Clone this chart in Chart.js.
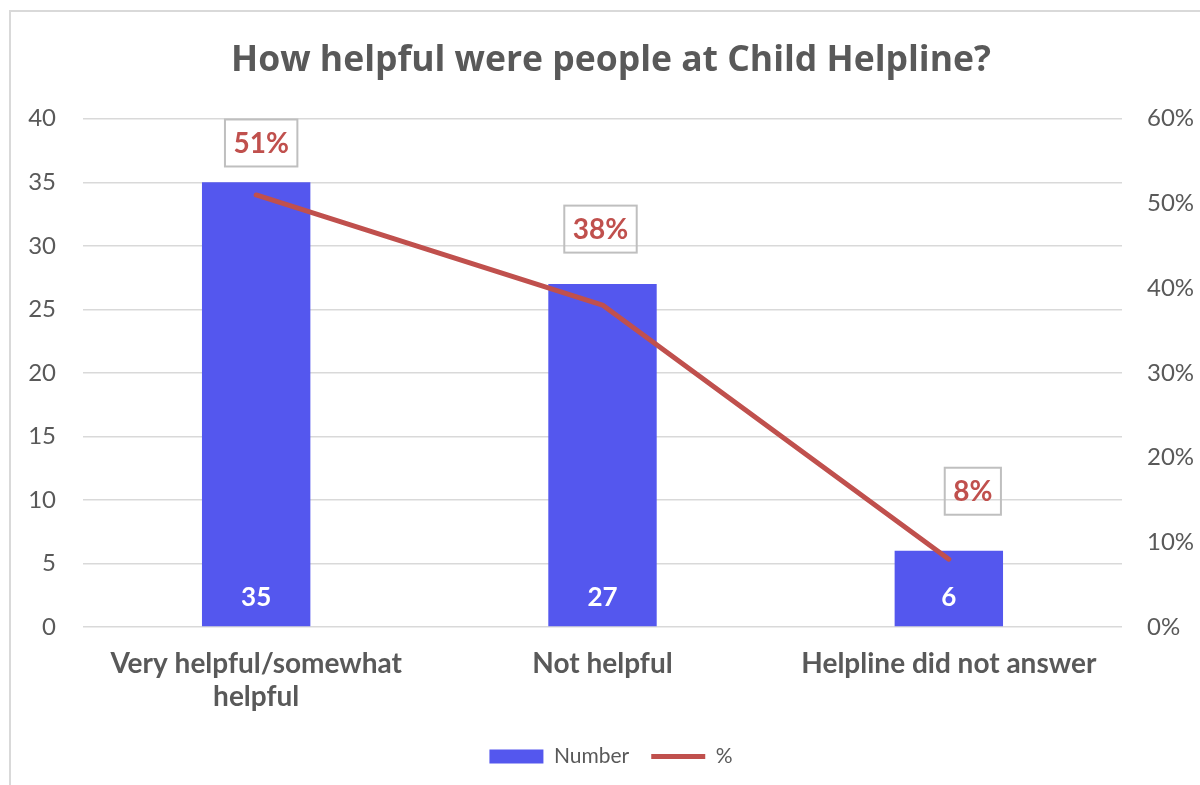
<!DOCTYPE html>
<html>
<head>
<meta charset="utf-8">
<script src="https://cdn.jsdelivr.net/npm/chart.js@4.4.1/dist/chart.umd.min.js"></script>
<style>
  html, body { margin: 0; padding: 0; width: 1200px; height: 785px; overflow: hidden; background: #fff; }
  #frame { position: absolute; left: 9px; top: 10px; border-left: 2px solid #d9d9d9; border-top: 2px solid #d9d9d9; }
  canvas { display: block; }
</style>
</head>
<body>
<div id="frame"><canvas id="helpChart" width="1200" height="780"></canvas></div>
<script>
// answers and how many gave each one
const categories = [['Very helpful/somewhat', 'helpful'], 'Not helpful', 'Helpline did not answer'];
const counts = [35, 27, 6];
const percents = [51, 38, 8];
const countTicks = [0, 5, 10, 15, 20, 25, 30, 35, 40];
const percentTicks = [0, 10, 20, 30, 40, 50, 60];

const GREY = '#595959';
const BLUE = '#5457ee';
const RED = '#c0504d';

// white counts at the foot of each bar, boxed percentages above the line
const valueLabels = {
  id: 'valueLabels',
  afterDatasetsDraw(chart, args, opts) {
    const ctx = chart.ctx;
    ctx.save();
    ctx.textAlign = 'center';
    ctx.textBaseline = 'middle';

    ctx.font = 'bold 26px Lato';
    ctx.fillStyle = '#fff';
    chart.getDatasetMeta(0).data.forEach((bar, i) => {
      ctx.fillText(String(counts[i]), bar.x, bar.base - 29);
    });

    ctx.font = 'bold 28px Lato';
    chart.getDatasetMeta(1).data.forEach((pt, i) => {
      const text = percents[i] + '%';
      const [dx, dy] = opts.nudges[i];
      const cx = pt.x + dx, cy = pt.y + dy;
      const w = ctx.measureText(text).width + 17;
      const h = 47;
      ctx.strokeStyle = '#bfbfbf';
      ctx.lineWidth = 2;
      ctx.strokeRect(cx - w / 2, cy - h / 2, w, h);
      ctx.fillStyle = RED;
      ctx.fillText(text, cx, cy + 1);
    });
    ctx.restore();
  }
};

const ctx = document.getElementById('helpChart').getContext('2d');
new Chart(ctx, {
  type: 'bar',
  data: {
    labels: categories,
    datasets: [
      {
        type: 'bar',
        label: 'Number',
        data: counts,
        backgroundColor: BLUE,
        pointStyle: 'rect',
        yAxisID: 'y',
        order: 2,
        categoryPercentage: 1,
        barPercentage: 0.313
      },
      {
        type: 'line',
        label: '%',
        data: percents,
        borderColor: RED,
        backgroundColor: RED,
        borderWidth: 5,
        borderCapStyle: 'round',
        borderJoinStyle: 'round',
        pointRadius: 0,
        pointStyle: 'line',
        tension: 0,
        yAxisID: 'y1',
        order: 1
      }
    ]
  },
  options: {
    responsive: false,
    animation: false,
    layout: { padding: { top: 0, bottom: 15, left: 0, right: 0 } },
    plugins: {
      title: {
        display: true,
        text: 'How helpful were people at Child Helpline?',
        color: GREY,
        font: { family: 'Open Sans', size: 35.5, weight: 'bold', lineHeight: 1.1 },
        padding: { top: 29, bottom: 38.7 }
      },
      legend: {
        position: 'bottom',
        labels: {
          usePointStyle: true,
          pointStyleWidth: 54,
          boxHeight: 14,
          padding: 22,
          color: GREY,
          font: { family: 'Lato', size: 21 },
          sort: (a, b) => a.datasetIndex - b.datasetIndex
        }
      },
      tooltip: { enabled: false },
      valueLabels: { nudges: [[5, -52], [-2, -76], [24, -68]] }
    },
    scales: {
      x: {
        grid: { display: false, drawTicks: false },
        border: { display: false },
        ticks: {
          color: GREY,
          font: { family: 'Lato', size: 28, weight: 'bold', lineHeight: 1.2 },
          padding: 20,
          maxRotation: 0,
          autoSkip: false
        },
        afterFit(s) { s.height = 97; }
      },
      y: {
        position: 'left',
        min: 0,
        max: 40,
        afterBuildTicks(s) { s.ticks = countTicks.map(v => ({ value: v })); },
        grid: { color: '#d9d9d9', lineWidth: 1.5, drawTicks: false },
        border: { display: false },
        ticks: { color: GREY, font: { family: 'Lato', size: 24 }, padding: 27 },
        afterFit(s) { s.width = 72; }
      },
      y1: {
        position: 'right',
        min: 0,
        max: 60,
        afterBuildTicks(s) { s.ticks = percentTicks.map(v => ({ value: v })); },
        grid: { display: false, drawTicks: false },
        border: { display: false },
        ticks: { color: GREY, font: { family: 'Lato', size: 24 }, padding: 25, callback: v => v + '%' },
        afterFit(s) { s.width = 89; }
      }
    }
  },
  plugins: [valueLabels]
});
</script>
</body>
</html>
